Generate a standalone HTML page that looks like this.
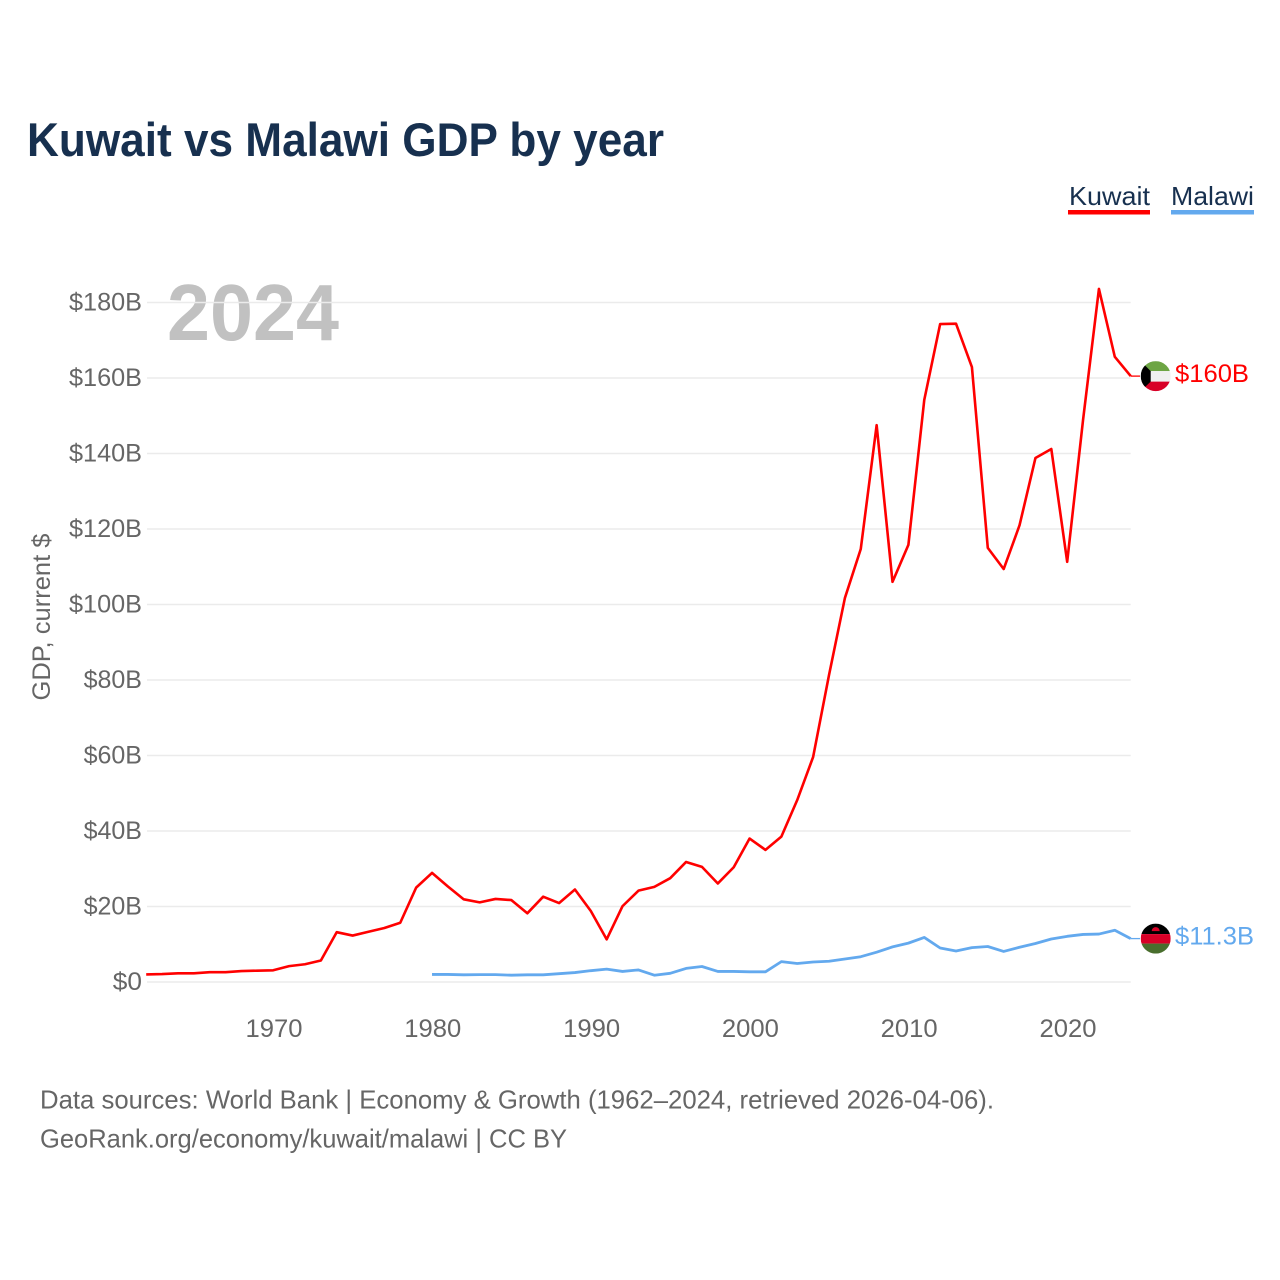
<!DOCTYPE html>
<html lang="en">
<head>
<meta charset="utf-8">
<title>Kuwait vs Malawi GDP by year</title>
<style>
html,body{margin:0;padding:0;background:#fff}
svg{display:block}
text{font-family:"Liberation Sans",sans-serif}
</style>
</head>
<body>
<svg id="chart" xmlns="http://www.w3.org/2000/svg" width="1280" height="1280" viewBox="0 0 1280 1280">
  <defs>
    <clipPath id="flag-clip"><circle cx="0" cy="0" r="15"/></clipPath>
  </defs>
  <rect width="1280" height="1280" fill="#fff"/>
  <text x="27" y="156" font-size="47" font-weight="700" fill="#17304f" textLength="637" lengthAdjust="spacingAndGlyphs">Kuwait vs Malawi GDP by year</text>

  <g>
    <text x="1069" y="205" font-size="26" fill="#17304f" textLength="81" lengthAdjust="spacingAndGlyphs">Kuwait</text>
    <rect x="1068" y="210" width="82" height="4.5" fill="#ff0000"/>
  </g>
  <g>
    <text x="1171" y="205" font-size="26" fill="#17304f" textLength="83" lengthAdjust="spacingAndGlyphs">Malawi</text>
    <rect x="1171" y="210" width="83" height="4.5" fill="#63a9ee"/>
  </g>

  <text x="167" y="340" font-size="80" font-weight="700" fill="#c1c1c1" textLength="172" lengthAdjust="spacingAndGlyphs">2024</text>

  <g id="grid"></g>
  <g id="y-axis"></g>
  <g id="x-axis"></g>

  <text transform="translate(50,617) rotate(-90)" text-anchor="middle" font-size="25" fill="#666" textLength="167" lengthAdjust="spacingAndGlyphs">GDP, current $</text>

  <g id="series"></g>

  <g id="flag-kuwait">
    <g clip-path="url(#flag-clip)">
      <rect x="-15" y="-15" width="30" height="10" fill="#6da544"/>
      <rect x="-15" y="-5" width="30" height="10.5" fill="#f0f0f0"/>
      <rect x="-15" y="5.5" width="30" height="10" fill="#d80027"/>
      <polygon points="-15,-15 -5,-5 -5,5.5 -15,15" fill="#000"/>
    </g>
  </g>
  <g id="flag-malawi">
    <g clip-path="url(#flag-clip)">
      <rect x="-15" y="-15" width="30" height="10.5" fill="#000"/>
      <rect x="-15" y="-4.5" width="30" height="9.5" fill="#d80027"/>
      <rect x="-15" y="5" width="30" height="10" fill="#496e2d"/>
      <path d="M-4,-7.5 a4,4 0 0 1 8,0 z" fill="#d80027"/>
    </g>
  </g>

  <text id="end-label-kuwait" x="1175" font-size="25" fill="#ff0000" textLength="74" lengthAdjust="spacingAndGlyphs"></text>
  <text id="end-label-malawi" x="1175" font-size="25" fill="#63a9ee" textLength="79" lengthAdjust="spacingAndGlyphs"></text>

  <text x="40" y="1108.5" font-size="26" fill="#666" textLength="954" lengthAdjust="spacingAndGlyphs">Data sources: World Bank | Economy &amp; Growth (1962–2024, retrieved 2026-04-06).</text>
  <text x="40" y="1147.5" font-size="26" fill="#666" textLength="527" lengthAdjust="spacingAndGlyphs">GeoRank.org/economy/kuwait/malawi | CC BY</text>
</svg>
<script>
const kuwaitStartYear = 1962;
const malawiStartYear = 1980;
const kuwaitValues = [2.0,2.1,2.3,2.3,2.6,2.6,2.9,3.0,3.1,4.2,4.7,5.7,13.2,12.3,13.3,14.3,15.7,25.0,28.9,25.3,21.9,21.1,22.0,21.7,18.2,22.6,20.9,24.5,18.8,11.3,20.1,24.2,25.2,27.5,31.8,30.5,26.1,30.4,38.0,35.0,38.5,48.2,59.6,81.3,101.7,114.7,147.5,106.0,115.8,154.2,174.3,174.4,162.9,115.0,109.4,121.0,138.8,141.2,111.3,148.9,183.6,165.6,160.5];
const malawiValues = [2.0,2.0,1.9,1.95,1.95,1.8,1.9,1.9,2.2,2.5,3.0,3.4,2.8,3.2,1.8,2.3,3.6,4.1,2.8,2.8,2.7,2.7,5.4,4.9,5.3,5.5,6.1,6.7,7.9,9.3,10.3,11.8,9.0,8.2,9.1,9.4,8.1,9.2,10.2,11.4,12.1,12.6,12.7,13.7,11.5];
const yTickValues = [0,20,40,60,80,100,120,140,160,180];
const yTickLabels = ["$0","$20B","$40B","$60B","$80B","$100B","$120B","$140B","$160B","$180B"];
const xTickYears = [1970,1980,1990,2000,2010,2020];
const kuwaitEndLabel = "$160B";
const malawiEndLabel = "$11.3B";

const NS = "http://www.w3.org/2000/svg";
const plotLeft = 146.2, plotRight = 1130.7, yearMin = 1962, yearMax = 2024;
const plotBase = 982, plotTop = 302.5, valueTop = 180;
function xScale(year){ return plotLeft + (year - yearMin) * (plotRight - plotLeft) / (yearMax - yearMin); }
function yScale(v){ return plotBase - v * (plotBase - plotTop) / valueTop; }
function make(tag, attrs, parent){
  const el = document.createElementNS(NS, tag);
  for (const k in attrs) el.setAttribute(k, attrs[k]);
  parent.appendChild(el);
  return el;
}
const grid = document.getElementById("grid");
const yAxis = document.getElementById("y-axis");
const xAxis = document.getElementById("x-axis");
const series = document.getElementById("series");

yTickValues.forEach(function(v, i){
  const line = make("line", {x1: plotLeft + 0.8, x2: plotRight, y1: yScale(v), y2: yScale(v), stroke: "#ebebeb", "stroke-width": 1.5}, grid);
  
  
  const label = make("text", {x: 142, y: yScale(v) + 8, "text-anchor": "end", "font-size": 25, fill: "#666", textLength: yTickLabels[i].length * 14.6, lengthAdjust: "spacingAndGlyphs"}, yAxis);
  
  
  label.textContent = yTickLabels[i];
});
xTickYears.forEach(function(year){
  const label = make("text", {x: xScale(year) + 0.8, y: 1037, "text-anchor": "middle", "font-size": 25, fill: "#666", textLength: 57, lengthAdjust: "spacingAndGlyphs"}, xAxis);
  
  
  label.textContent = year;
});
function pointsFor(values, startYear){
  return values.map(function(v, i){ return xScale(startYear + i).toFixed(2) + "," + yScale(v).toFixed(2); }).join(" ");
}
function lastY(values){ return yScale(values[values.length - 1]); }

const malawiLine = make("polyline", {points: pointsFor(malawiValues, malawiStartYear), fill: "none", stroke: "#63a9ee", "stroke-width": 2.8, "stroke-linejoin": "round"}, series);


const kuwaitLine = make("polyline", {points: pointsFor(kuwaitValues, kuwaitStartYear), fill: "none", stroke: "#ff0000", "stroke-width": 2.6, "stroke-linejoin": "round"}, series);



const kuwaitLeader = make("line", {x1: plotRight, x2: 1140, y1: lastY(kuwaitValues), y2: lastY(kuwaitValues), stroke: "#ff0000", "stroke-width": 1.3}, series);


const malawiLeader = make("line", {x1: plotRight, x2: 1140, y1: lastY(malawiValues), y2: lastY(malawiValues), stroke: "#63a9ee", "stroke-width": 1.3}, series);



document.getElementById("flag-kuwait").setAttribute("transform", "translate(1155.7," + lastY(kuwaitValues) + ")");
document.getElementById("flag-malawi").setAttribute("transform", "translate(1155.7," + lastY(malawiValues) + ")");
const endK = document.getElementById("end-label-kuwait");
endK.setAttribute("y", lastY(kuwaitValues) + 6);
endK.textContent = kuwaitEndLabel;
const endM = document.getElementById("end-label-malawi");
endM.setAttribute("y", lastY(malawiValues) + 6);
endM.textContent = malawiEndLabel;
</script>
</body>
</html>
